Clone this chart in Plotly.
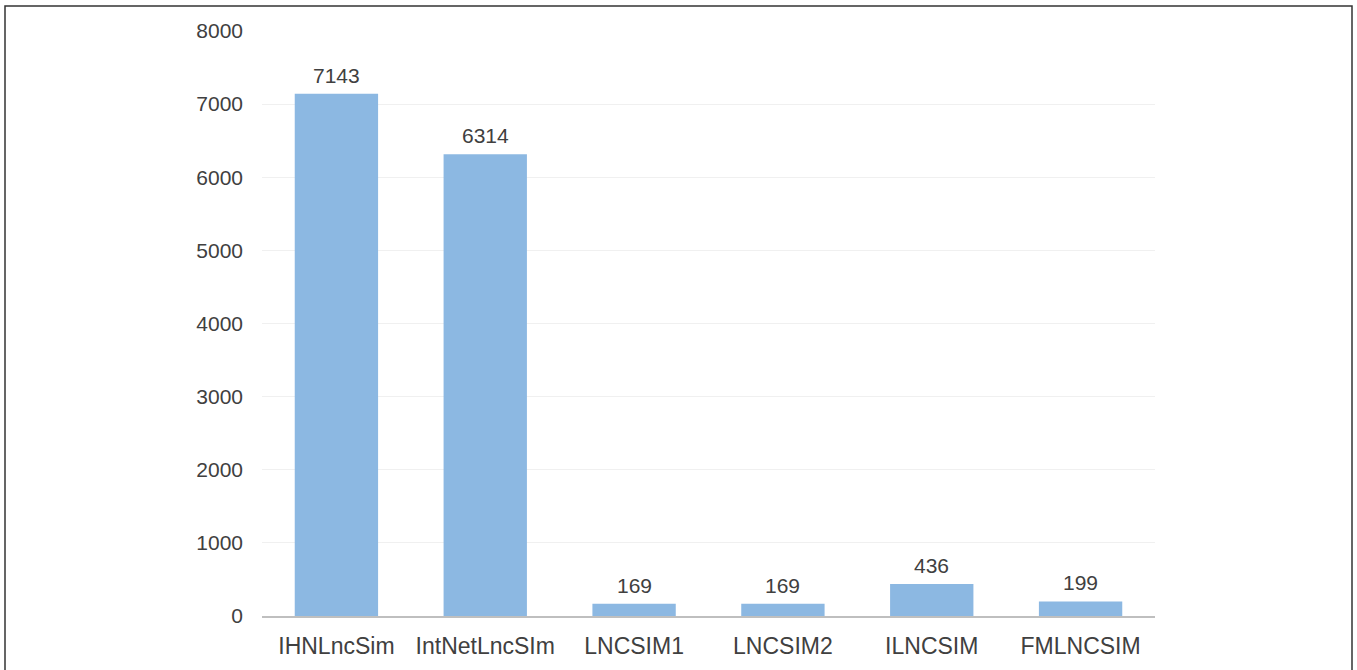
import plotly.graph_objects as go

categories = ["IHNLncSim", "IntNetLncSIm", "LNCSIM1", "LNCSIM2", "ILNCSIM", "FMLNCSIM"]
values = [7143, 6314, 169, 169, 436, 199]
tick_vals = [0, 1000, 2000, 3000, 4000, 5000, 6000, 7000, 8000]

W, H = 1357, 670
L, R, T, B = 262, 1155, 31, 616

fig = go.Figure(go.Bar(
    x=categories, y=values,
    marker=dict(color="#8cb8e2", line=dict(width=0)),
    width=0.56,
))

for c, v in zip(categories, values):
    fig.add_annotation(x=c, y=v, text=str(v), showarrow=False, yanchor="bottom",
                       yshift=5, font=dict(size=21, color="#404040", family="Liberation Sans, Arial"))

def px_to_paper_x(px):
    return (px - L) / (R - L)

def px_to_paper_y(py):
    return (B - py) / (B - T)

fig.add_shape(type="rect", xref="paper", yref="paper",
              x0=px_to_paper_x(5), x1=px_to_paper_x(1352),
              y0=px_to_paper_y(700), y1=px_to_paper_y(6),
              line=dict(color="#333333", width=1.5), fillcolor="rgba(0,0,0,0)", layer="above")

fig.update_layout(
    width=W, height=H,
    margin=dict(l=L, r=W - R, t=T, b=H - B),
    paper_bgcolor="white", plot_bgcolor="white",
    font=dict(family="Liberation Sans, Arial", size=21, color="#404040"),
    showlegend=False,
    xaxis=dict(showline=True, linecolor="#bfbfbf", linewidth=2, ticks="",
               ticklabelstandoff=8,
               tickfont=dict(size=23, color="#404040")),
    yaxis=dict(range=[0, 8000], tickvals=tick_vals, showgrid=True, gridcolor="#f0f0f0",
               gridwidth=1, zeroline=False, showline=False, ticks="", ticklabelstandoff=18,
               tickfont=dict(size=21, color="#404040")),
)

fig.write_html("out.html")
